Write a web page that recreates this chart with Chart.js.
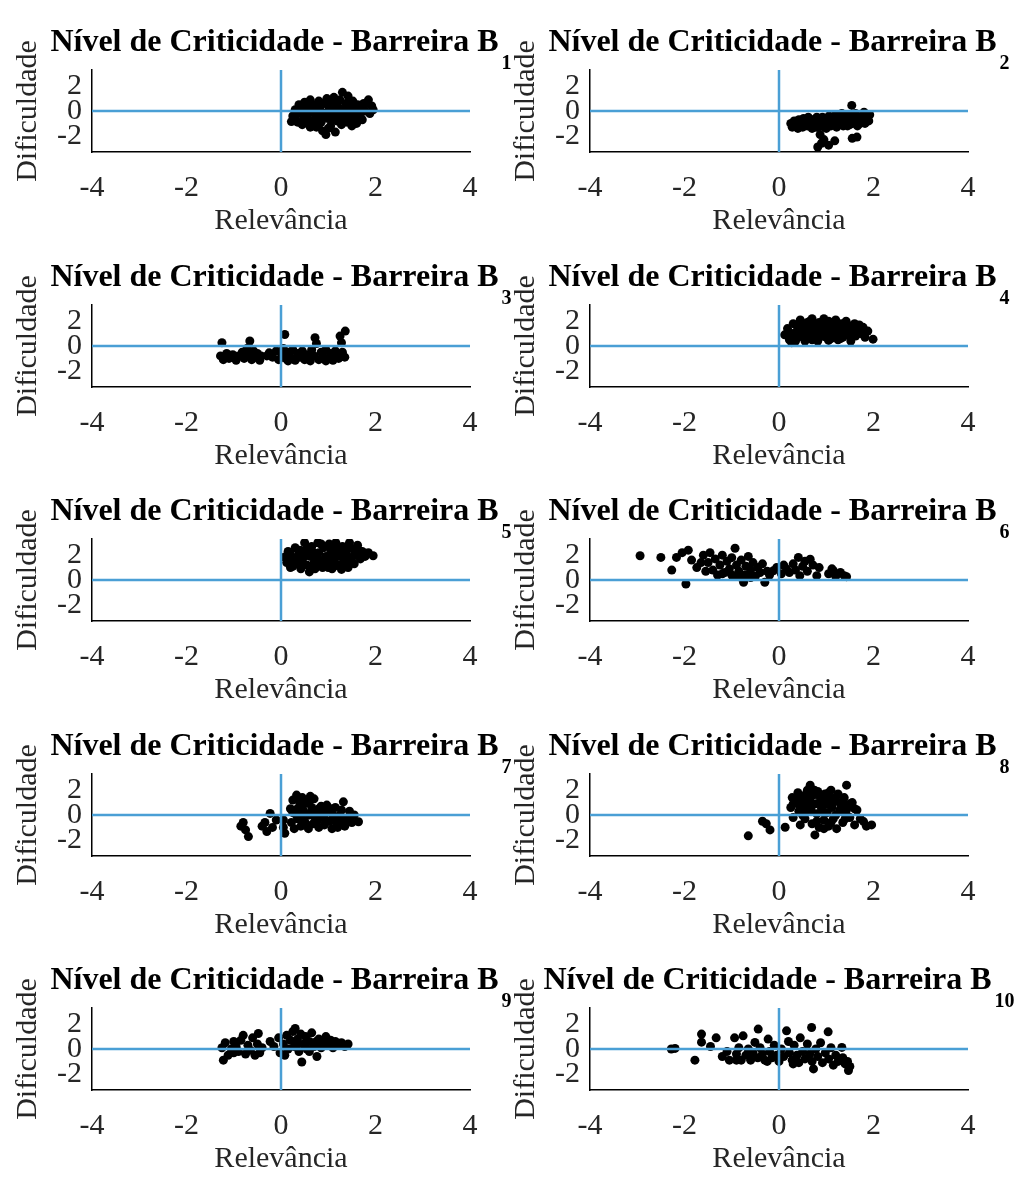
<!DOCTYPE html>
<html>
<head>
<meta charset="utf-8">
<script src="https://cdn.jsdelivr.net/npm/chart.js@4/dist/chart.umd.min.js"></script>
<style>
  body { margin: 0; background: #fff; }
  #fig { position: relative; width: 1020px; height: 1180px; overflow: hidden; background: #fff; }
  #fig canvas { position: absolute; }
</style>
</head>
<body>
<div id="fig"></div>
<script>
// eixos comuns a todos os paineis
const xTicks = [-4, -2, 0, 2, 4];
const yTicks = [-2, 0, 2];
const xLim = [-4, 4];
const yLim = [-3.3, 3.3];

// pontos [relevancia, dificuldade] de cada barreira
const pontosB1 = [[0.22,-0.85],[0.25,-0.4],[0.3,0.1],[0.35,-0.9],[0.38,0.5],[0.42,-0.2],[0.45,-1.1],[0.5,0.7],[0.52,0.2],[0.55,-0.5],[0.6,-1.0],[0.62,0.9],[0.65,0.0],[0.7,-0.7],[0.72,0.5],[0.75,-1.3],[0.78,-0.3],[0.8,0.8],[0.82,0.2],[0.85,-0.9],[0.88,-1.6],[0.9,0.6],[0.92,-0.2],[0.95,-1.9],[0.97,1.0],[1.0,-0.6],[1.02,0.3],[1.05,-1.2],[1.08,0.7],[1.1,-0.1],[1.12,1.1],[1.15,-1.7],[1.18,-0.8],[1.2,0.4],[1.22,-0.4],[1.25,0.9],[1.28,-1.1],[1.3,1.5],[1.32,0.1],[1.35,-0.5],[1.38,0.6],[1.4,-0.9],[1.42,1.2],[1.45,-0.2],[1.48,0.3],[1.5,-1.2],[1.52,0.8],[1.55,-0.6],[1.58,0.0],[1.6,-1.0],[1.62,0.5],[1.65,-0.3],[1.7,0.3],[1.72,-0.7],[1.78,0.0],[1.82,0.6],[1.85,0.9],[1.88,-0.2],[1.92,0.4],[1.95,0.1],[0.48,-0.6],[0.68,-0.1],[1.0,0.0],[0.58,0.4],[1.15,0.2],
  [0.3,-0.6],[0.4,0.2],[0.55,0.0],[0.65,-0.8],[0.75,0.2],[0.85,0.5],[0.9,-0.5],[1.0,0.6],[1.05,-0.3],[1.12,-0.6],[1.2,0.8],[1.25,0.0],[1.3,-0.8],[1.38,0.3],[1.45,0.7],[1.5,-0.5],[1.6,0.3],[1.68,-0.5],[1.75,0.6],[0.8,-1.1],[1.0,-1.4],[0.62,-1.3]];
const pontosB2 = [[0.25,-1.0],[0.28,-1.3],[0.32,-0.8],[0.36,-1.1],[0.4,-1.4],[0.42,-0.7],[0.46,-1.0],[0.5,-1.3],[0.52,-0.6],[0.56,-0.9],[0.6,-1.2],[0.62,-0.5],[0.66,-1.0],[0.7,-1.4],[0.72,-0.7],[0.76,-1.1],[0.8,-0.5],[0.82,-1.3],[0.86,-0.8],[0.87,-1.9],[0.9,-1.1],[0.92,-0.5],[0.96,-1.3],[1.0,-0.8],[1.02,-1.1],[1.06,-0.4],[1.1,-1.2],[1.12,-0.7],[1.16,-1.0],[1.2,-0.3],[1.22,-1.3],[1.26,-0.6],[1.3,-0.9],[1.33,-0.2],[1.36,-1.2],[1.4,-0.5],[1.44,-0.9],[1.48,-0.3],[1.5,-1.1],[1.54,0.45],[1.55,-0.6],[1.6,-0.9],[1.62,-0.2],[1.66,-1.2],[1.7,-0.5],[1.75,-0.8],[1.8,-0.1],[1.82,-1.0],[1.86,-0.5],[1.9,-0.8],[1.92,-0.3],[0.82,-2.9],[0.9,-2.6],[1.05,-2.75],[1.18,-2.4],[1.55,-2.2],[1.65,-2.1],[0.95,-2.3],
  [0.3,-1.1],[0.45,-1.2],[0.55,-0.7],[0.68,-0.8],[0.78,-1.3],[0.85,-1.0],[0.95,-0.6],[1.05,-1.0],[1.15,-0.5],[1.25,-1.1],[1.35,-0.7],[1.45,-1.2],[1.55,-1.0],[1.65,-0.7],[1.72,-1.0],[1.85,-0.7],[1.0,-1.4],[0.6,-0.9]];
const pontosB3 = [[-1.25,0.27],[-1.28,-0.8],[-1.22,-1.1],[-1.15,-0.6],[-1.1,-1.0],[-1.02,-0.7],[-0.95,-1.15],[-0.9,-0.8],[-0.82,-0.5],[-0.78,-1.0],[-0.72,-0.2],[-0.68,-0.75],[-0.66,0.4],[-0.62,-1.1],[-0.58,-0.4],[-0.55,-0.9],[-0.5,-0.6],[-0.45,-1.15],[-0.42,-0.8],[-0.25,-0.55],[-0.18,-0.9],[-0.1,-0.4],[-0.05,-1.1],[0.02,-0.7],[0.05,-0.2],[0.08,0.93],[0.1,-1.0],[0.15,-0.5],[0.2,-0.9],[0.25,-0.3],[0.3,-1.15],[0.35,-0.6],[0.4,-0.9],[0.45,-0.4],[0.5,-1.1],[0.55,-0.7],[0.6,-1.0],[0.65,-0.3],[0.7,-0.8],[0.72,0.66],[0.75,0.2],[0.8,-1.1],[0.85,-0.5],[0.9,-0.9],[0.95,-0.3],[1.0,-1.0],[1.05,-0.6],[1.1,-1.15],[1.15,-0.4],[1.2,-0.8],[1.25,0.8],[1.28,0.27],[1.3,-0.5],[1.36,1.2],[1.35,-0.9],[-0.3,-0.8],[0.15,-1.2],[0.62,-1.2],[0.95,-1.2],[1.22,-1.0]];
const pontosB4 = [[0.12,0.9],[0.18,1.4],[0.22,0.5],[0.27,0.27],[0.3,1.8],[0.35,1.1],[0.4,0.7],[0.45,2.1],[0.48,1.5],[0.52,0.9],[0.55,0.4],[0.6,1.9],[0.62,1.3],[0.68,0.7],[0.7,2.2],[0.75,1.6],[0.78,1.0],[0.82,0.4],[0.85,1.9],[0.88,1.3],[0.92,0.8],[0.95,2.2],[1.0,1.6],[1.02,1.0],[1.05,0.45],[1.1,1.9],[1.12,1.3],[1.15,0.8],[1.2,2.1],[1.22,1.5],[1.25,0.5],[1.3,1.1],[1.32,1.8],[1.35,0.7],[1.4,1.4],[1.42,2.0],[1.45,0.9],[1.5,1.6],[1.52,0.4],[1.55,1.2],[1.6,1.8],[1.62,0.8],[1.68,1.4],[1.72,1.0],[1.78,1.5],[1.82,0.7],[1.88,1.2],[1.99,0.55],[0.25,1.0],[0.58,1.1],[0.95,1.2],[1.28,1.3],[0.4,1.6],[1.1,0.6],[0.72,1.2],
  [0.2,1.1],[0.3,0.6],[0.4,1.3],[0.5,1.8],[0.55,1.2],[0.65,1.6],[0.7,0.5],[0.8,1.4],[0.85,0.7],[0.9,1.7],[1.0,0.7],[1.05,1.4],[1.15,1.7],[1.2,0.9],[1.3,0.6],[1.35,1.6],[1.45,1.2],[1.5,0.8],[1.6,1.3],[1.7,1.7],[1.75,1.2],[0.65,2.0],[1.05,2.0],[0.35,0.4]];
const pontosB5 = [[0.08,1.85],[0.12,1.4],[0.15,2.3],[0.2,1.0],[0.25,1.8],[0.3,2.6],[0.32,1.3],[0.38,2.1],[0.42,0.9],[0.45,1.6],[0.5,3.0],[0.52,2.4],[0.55,1.2],[0.6,0.65],[0.62,1.9],[0.65,2.7],[0.7,1.4],[0.72,0.9],[0.78,3.0],[0.8,2.2],[0.82,1.6],[0.88,1.0],[0.9,2.6],[0.95,1.9],[0.98,1.3],[1.02,2.9],[1.05,2.2],[1.08,0.9],[1.1,1.6],[1.16,3.0],[1.18,2.4],[1.2,1.2],[1.25,1.9],[1.28,0.85],[1.3,2.7],[1.35,1.5],[1.38,2.2],[1.42,1.0],[1.45,3.0],[1.48,1.8],[1.52,2.5],[1.55,1.3],[1.6,2.1],[1.62,2.8],[1.68,1.7],[1.72,2.3],[1.78,1.9],[1.85,2.2],[1.95,1.95],[0.35,1.7],[0.75,1.8],[1.15,1.8],[1.5,1.5],[0.58,2.1],[0.25,1.1],
  [0.15,1.6],[0.2,2.1],[0.3,1.5],[0.4,2.4],[0.45,1.2],[0.5,1.9],[0.6,2.5],[0.68,1.1],[0.7,2.2],[0.85,2.9],[0.9,1.4],[1.0,1.7],[1.05,2.6],[1.12,1.1],[1.25,2.3],[1.3,1.3],[1.4,2.7],[1.4,1.8],[1.55,2.0],[1.65,2.4],[1.7,1.9],[1.8,2.1],[0.8,1.2],[1.0,1.0]];
const pontosB6 = [[-2.94,1.95],[-2.5,1.82],[-2.27,0.8],[-1.97,-0.32],[-2.17,1.82],[-2.05,2.2],[-1.92,2.4],[-1.85,1.6],[-1.74,1.0],[-1.6,2.0],[-1.5,1.4],[-1.46,2.2],[-1.4,0.8],[-1.35,1.7],[-1.3,0.4],[-1.25,1.2],[-1.2,2.0],[-1.15,0.6],[-1.1,1.5],[-1.05,0.9],[-1.0,1.8],[-0.95,0.3],[-0.93,2.56],[-0.9,1.2],[-0.85,0.7],[-0.8,1.6],[-0.75,-0.18],[-0.72,0.4],[-0.7,1.1],[-0.65,1.9],[-0.6,0.8],[-0.55,1.4],[-0.5,0.3],[-0.45,1.0],[-0.4,0.6],[-0.35,1.3],[-0.3,-0.18],[-0.25,0.7],[-0.2,0.4],[-0.12,0.74],[-0.05,1.0],[0.05,0.5],[0.1,1.2],[0.16,0.88],[0.22,0.6],[0.3,1.3],[0.35,0.8],[0.41,1.82],[0.44,0.35],[0.5,1.1],[0.55,1.5],[0.6,0.7],[0.66,1.68],[0.72,1.2],[0.8,0.35],[0.85,1.0],[1.05,0.5],[1.12,0.9],[1.15,0.74],[1.2,0.3],[1.3,0.6],[1.38,0.35],[1.43,0.27],[-1.55,0.7],[-1.65,1.4],[-0.8,0.2],[-1.0,0.4],[-0.6,0.2],[-1.2,0.5]];
const pontosB7 = [[-0.85,-0.9],[-0.8,-0.6],[-0.75,-1.2],[-0.69,-1.74],[-0.4,-0.9],[-0.34,-0.6],[-0.3,-1.33],[-0.23,0.13],[-0.18,-1.0],[-0.1,-0.4],[0.05,-0.4],[0.08,-1.47],[0.05,-1.0],[0.2,0.5],[0.22,-0.6],[0.25,1.2],[0.28,-1.1],[0.3,0.1],[0.33,1.6],[0.35,-0.3],[0.4,0.8],[0.42,-0.9],[0.45,1.4],[0.48,0.3],[0.5,-0.5],[0.55,1.0],[0.58,-1.1],[0.6,0.0],[0.65,0.6],[0.68,-0.7],[0.7,1.3],[0.75,0.2],[0.78,-0.4],[0.8,-1.0],[0.85,0.7],[0.88,-0.1],[0.92,-0.8],[0.97,0.8],[1.0,0.3],[1.03,-0.5],[1.08,-1.1],[1.1,0.0],[1.15,0.6],[1.18,-0.6],[1.22,-0.2],[1.28,0.4],[1.32,1.06],[1.35,-0.9],[1.4,-0.3],[1.45,0.3],[1.5,-0.6],[1.55,0.0],[1.64,-0.54],[0.62,1.5],[0.4,-0.1],[1.2,-1.0],
  [0.25,0.2],[0.35,0.5],[0.45,-0.3],[0.5,0.9],[0.55,-0.8],[0.65,0.3],[0.72,-0.2],[0.8,0.5],[0.9,0.3],[0.95,-0.4],[1.05,0.5],[1.12,-0.3],[1.25,0.0],[1.3,-0.6],[1.45,-0.1],[0.6,1.1],[0.35,1.3]];
const pontosB8 = [[-0.65,-1.68],[-0.35,-0.5],[-0.27,-0.7],[-0.19,-1.2],[0.13,-0.99],[0.25,0.6],[0.28,1.4],[0.3,-0.2],[0.35,1.0],[0.4,1.8],[0.42,0.3],[0.45,-0.8],[0.5,1.3],[0.52,0.7],[0.55,-0.3],[0.6,2.0],[0.62,1.0],[0.66,2.4],[0.68,0.4],[0.7,-0.7],[0.72,1.6],[0.76,-1.6],[0.78,0.9],[0.8,0.1],[0.82,1.9],[0.85,-1.0],[0.88,1.3],[0.9,0.5],[0.95,-0.4],[0.97,1.7],[1.0,0.9],[1.02,0.2],[1.05,-0.9],[1.08,1.4],[1.1,2.0],[1.12,0.6],[1.15,-0.3],[1.18,1.1],[1.22,-1.1],[1.25,1.7],[1.28,0.3],[1.3,0.9],[1.35,-0.6],[1.38,1.4],[1.43,2.4],[1.45,0.6],[1.5,-0.2],[1.55,1.0],[1.6,-0.8],[1.65,0.4],[1.72,-0.3],[1.79,-0.53],[1.85,-0.9],[1.96,-0.8],[0.5,0.0],[0.95,-1.1],[0.4,0.9],[1.2,0.0],
  [0.3,0.9],[0.38,1.4],[0.45,0.5],[0.55,1.6],[0.6,0.3],[0.65,1.2],[0.75,2.0],[0.7,0.8],[0.85,1.6],[0.9,0.9],[0.95,0.2],[1.0,1.3],[1.05,1.8],[1.12,0.9],[1.2,1.4],[1.3,0.5],[1.35,1.1],[1.42,0.3],[1.5,0.9],[1.6,0.5],[0.8,-0.5],[1.1,-0.6],[1.4,-0.3]];
const pontosB9 = [[-1.25,0.1],[-1.22,-0.9],[-1.18,0.5],[-1.12,-0.5],[-1.05,0.0],[-1.0,0.6],[-0.95,0.2],[-0.9,-0.2],[-0.85,0.7],[-0.8,1.1],[-0.75,-0.4],[-0.7,0.3],[-0.65,-0.1],[-0.6,0.9],[-0.55,-0.5],[-0.5,0.4],[-0.48,1.25],[-0.45,-0.3],[-0.4,0.1],[-0.23,0.6],[-0.15,0.2],[-0.05,0.9],[-0.02,-0.3],[0.05,0.4],[0.08,-0.5],[0.12,1.1],[0.15,0.0],[0.2,0.7],[0.25,1.4],[0.28,0.2],[0.3,1.65],[0.35,0.8],[0.38,-0.2],[0.42,1.2],[0.44,-1.05],[0.48,0.4],[0.52,1.0],[0.55,0.0],[0.6,0.6],[0.65,1.3],[0.7,0.2],[0.76,-0.6],[0.8,0.8],[0.85,0.1],[0.9,0.5],[0.95,1.0],[1.0,0.3],[1.05,0.7],[1.1,0.1],[1.15,0.6],[1.2,0.3],[1.28,0.5],[1.35,0.2],[1.42,0.4],[0.6,-0.2],[-1.0,-0.3],[0.35,0.4],[0.75,0.6]];
const pontosB10 = [[-2.28,0.0],[-2.2,0.05],[-1.78,-0.9],[-1.64,1.2],[-1.64,0.55],[-1.45,0.2],[-1.33,0.9],[-1.2,-0.6],[-1.1,-0.2],[-1.05,-0.9],[-0.94,0.9],[-0.9,-0.4],[-0.85,0.1],[-0.8,-0.9],[-0.76,1.06],[-0.7,-0.5],[-0.65,0.0],[-0.6,-0.9],[-0.55,-0.3],[-0.51,0.53],[-0.45,-0.7],[-0.44,1.6],[-0.4,0.1],[-0.35,-0.4],[-0.3,-0.9],[-0.23,0.8],[-0.2,-0.2],[-0.15,-0.7],[-0.1,0.3],[-0.05,-0.5],[0.0,-1.0],[0.05,0.0],[0.1,-0.6],[0.16,1.46],[0.2,0.6],[0.22,-0.3],[0.28,-0.9],[0.32,0.3],[0.38,-0.5],[0.42,-1.1],[0.45,0.9],[0.5,-0.2],[0.55,-0.8],[0.6,0.4],[0.65,-0.4],[0.69,1.73],[0.7,-1.0],[0.73,-1.6],[0.78,0.0],[0.82,-0.6],[0.88,0.5],[0.92,-1.1],[0.98,-0.3],[1.04,1.38],[1.05,-0.8],[1.1,0.1],[1.15,-1.3],[1.2,-0.5],[1.25,-1.0],[1.33,0.13],[1.35,-0.7],[1.4,-1.2],[1.47,-1.73],[1.45,-1.0],[1.5,-1.4],[0.3,-1.2],[-0.9,-0.9],[-0.25,-1.0]];

const subscritos = ['1', '2', '3', '4', '5', '6', '7', '8', '9', '10'];
const paineis = [pontosB1, pontosB2, pontosB3, pontosB4, pontosB5, pontosB6, pontosB7, pontosB8, pontosB9, pontosB10];

// geometria de cada painel (canvas e area do grafico)
const W = 522, H = 236;
const AREA = { left: 92, right: 470, top: 70, bottom: 152 };
const ALTURA_EIXO_X = 60;
const azul = '#4a9fd5';
const corTexto = '#262626';
const serif = '"Liberation Serif", "Times New Roman", serif';

// titulo com subscrito e rotulos dos eixos
const textoPainel = {
  id: 'textoPainel',
  afterDraw(chart, args, opts) {
    const { ctx, chartArea: a } = chart;
    const cx = (a.left + a.right) / 2;
    const principal = 'Nível de Criticidade - Barreira B';
    ctx.save();
    ctx.font = 'bold 32px ' + serif;
    const w1 = ctx.measureText(principal).width;
    ctx.font = 'bold 20px ' + serif;
    const w2 = ctx.measureText(opts.sub).width;
    const x0 = cx - (w1 + w2 + 3) / 2;
    ctx.fillStyle = '#000';
    ctx.textAlign = 'left';
    ctx.textBaseline = 'alphabetic';
    ctx.font = 'bold 32px ' + serif;
    ctx.fillText(principal, x0, 51);
    ctx.font = 'bold 20px ' + serif;
    ctx.fillText(opts.sub, x0 + w1 + 3, 69);

    ctx.fillStyle = corTexto;
    ctx.font = '30px ' + serif;
    ctx.textAlign = 'center';
    ctx.fillText('Relevância', cx, 229);

    ctx.translate(a.left - 56, (a.top + a.bottom) / 2);
    ctx.rotate(-Math.PI / 2);
    ctx.fillText('Dificuldade', 0, 0);
    ctx.restore();
  }
};

const fig = document.getElementById('fig');

paineis.forEach((pontos, i) => {
  const col = i % 2, row = Math.floor(i / 2);
  const canvas = document.createElement('canvas');
  canvas.width = W;
  canvas.height = H;
  canvas.style.left = (col * 498) + 'px';
  canvas.style.top = Math.round(row * 234.5) + 'px';
  fig.appendChild(canvas);

  new Chart(canvas, {
    type: 'scatter',
    data: {
      datasets: [
        {
          data: [{ x: xLim[0], y: 0 }, { x: xLim[1], y: 0 }],
          showLine: true, borderColor: azul, borderWidth: 2.5, pointRadius: 0
        },
        {
          data: [{ x: 0, y: yLim[0] }, { x: 0, y: yLim[1] }],
          showLine: true, borderColor: azul, borderWidth: 2.5, pointRadius: 0
        },
        {
          data: pontos.map(([x, y]) => ({ x, y })),
          backgroundColor: '#000', borderColor: '#000', borderWidth: 0, pointRadius: 4.5
        }
      ]
    },
    options: {
      responsive: false,
      animation: false,
      devicePixelRatio: 1,
      layout: { padding: { left: 0, right: W - AREA.right, top: AREA.top, bottom: H - AREA.bottom - ALTURA_EIXO_X } },
      plugins: {
        legend: { display: false },
        tooltip: { enabled: false },
        textoPainel: { sub: subscritos[i] }
      },
      scales: {
        x: {
          type: 'linear', min: xLim[0], max: xLim[1],
          afterFit: s => { s.height = ALTURA_EIXO_X; },
          afterBuildTicks: s => { s.ticks = xTicks.map(v => ({ value: v })); },
          grid: { display: false, drawTicks: false },
          border: { display: true, color: '#000', width: 1.5 },
          ticks: { autoSkip: false, maxRotation: 0, padding: 18, color: corTexto, font: { family: serif, size: 30 } }
        },
        y: {
          type: 'linear', min: yLim[0], max: yLim[1],
          afterFit: s => { s.width = AREA.left; },
          afterBuildTicks: s => { s.ticks = yTicks.map(v => ({ value: v })); },
          grid: { display: false, drawTicks: false },
          border: { display: true, color: '#000', width: 1.5 },
          ticks: { autoSkip: false, padding: 10, color: corTexto, font: { family: serif, size: 30 } }
        }
      }
    },
    plugins: [textoPainel]
  });
});
</script>
</body>
</html>
